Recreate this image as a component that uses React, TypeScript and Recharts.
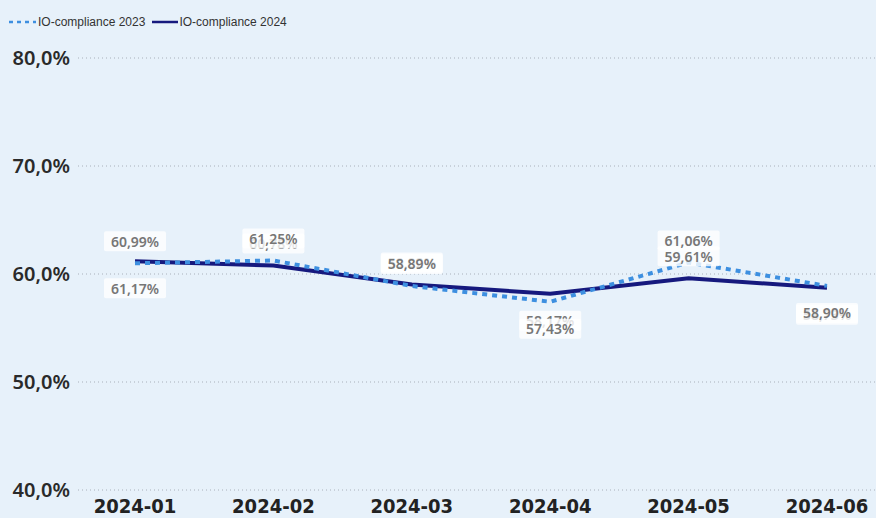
import { LineChart, Line, XAxis, YAxis, CartesianGrid, LabelList } from 'recharts';

const months = ['2024-01', '2024-02', '2024-03', '2024-04', '2024-05', '2024-06'];
const compliance2023 = [60.99, 61.25, 58.89, 57.43, 61.06, 58.9];
const compliance2024 = [61.17, 60.78, 59.02, 58.17, 59.61, 58.73];
const yTicks = [40, 50, 60, 70, 80];

// where each value label sits relative to its point
const side2023 = ['up', 'up', 'up', 'down', 'up', 'down'];
const side2024 = ['down', 'up', 'up', 'down', 'up', 'down'];

const data = months.map((m, i) => ({
  month: m,
  c2023: compliance2023[i],
  c2024: compliance2024[i],
}));

const BG = '#e7f1fa';
const LIGHT = '#3d8fe0';
const NAVY = '#16197e';

const fmt = (v: number) => v.toFixed(2).replace('.', ',') + '%';

function makeLabel(sides: string[]) {
  return (props: any) => {
    const { x, y, value, index } = props;
    const up = sides[index] === 'up';
    const cy = up ? y - 22 : y + 27;
    return (
      <g>
        <rect x={x - 31} y={cy - 10} width={62} height={20} rx={2} fill="#ffffff" fillOpacity={0.8} />
        <text
          x={x}
          y={cy}
          textAnchor="middle"
          dominantBaseline="central"
          fill="#767676"
          fontSize={14}
          fontWeight={600}
          fontFamily="'Noto Sans', sans-serif"
        >
          {fmt(value)}
        </text>
      </g>
    );
  };
}

function LegendRow() {
  const item = { display: 'flex', alignItems: 'center', marginRight: 6 } as const;
  return (
    <div
      style={{
        position: 'absolute',
        top: 14,
        left: 8,
        display: 'flex',
        fontFamily: "'Liberation Sans', Arial, sans-serif",
        fontSize: 12,
        color: '#333',
      }}
    >
      <div style={item}>
        <svg width={30} height={16}>
          <line x1={1} y1={8} x2={28} y2={8} stroke={LIGHT} strokeWidth={2.5} strokeDasharray="4 4" />
        </svg>
        <span>IO-compliance 2023</span>
      </div>
      <div style={item}>
        <svg width={28} height={16}>
          <line x1={1} y1={8} x2={27} y2={8} stroke={NAVY} strokeWidth={2.5} />
        </svg>
        <span>IO-compliance 2024</span>
      </div>
    </div>
  );
}

export default function App() {
  return (
    <div style={{ position: 'fixed', top: 0, left: 0, width: 876, height: 518, background: BG }}>
      <LegendRow />
      <LineChart width={876} height={518} data={data} margin={{ top: 58, right: 0, bottom: 0, left: 0 }}>
        <CartesianGrid vertical={false} stroke="#a9b0ba" strokeDasharray="1 3" />
        <XAxis
          dataKey="month"
          height={28}
          padding={{ left: 57, right: 49 }}
          axisLine={false}
          tickLine={false}
          tickSize={0}
          tickMargin={9}
          tick={{ fill: '#222', fontSize: 20, fontWeight: 700, fontFamily: "'DejaVu Sans Condensed', 'DejaVu Sans', sans-serif" }}
        />
        <YAxis
          width={78}
          domain={[40, 80]}
          ticks={yTicks}
          axisLine={false}
          tickLine={false}
          tickSize={0}
          tickMargin={8}
          tickFormatter={(v: number) => v.toFixed(1).replace('.', ',') + '%'}
          tick={{ fill: '#2a2a2a', fontSize: 20, fontWeight: 600, fontFamily: "'Noto Sans', sans-serif" }}
        />
        <Line
          type="linear"
          dataKey="c2024"
          stroke={NAVY}
          strokeWidth={4}
          dot={false}
          isAnimationActive={false}
        >
          <LabelList dataKey="c2024" content={makeLabel(side2024)} />
        </Line>
        <Line
          type="linear"
          dataKey="c2023"
          stroke={LIGHT}
          strokeWidth={4}
          strokeDasharray="5 5"
          dot={false}
          isAnimationActive={false}
        >
          <LabelList dataKey="c2023" content={makeLabel(side2023)} />
        </Line>
      </LineChart>
    </div>
  );
}
